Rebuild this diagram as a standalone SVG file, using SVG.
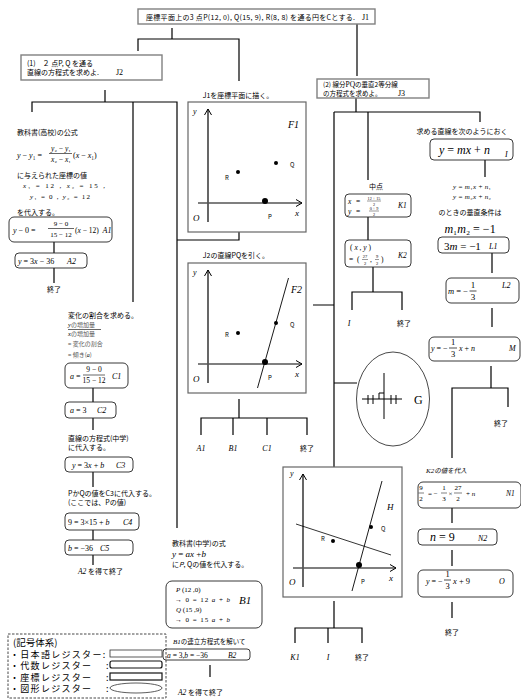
<svg xmlns="http://www.w3.org/2000/svg" width="521" height="700" viewBox="0 0 521 700">
<defs>
<style>
.jb{fill:#fff;stroke:#808080;stroke-width:1.4}
.fb{fill:#fff;stroke:#666;stroke-width:1.2}
.rb{fill:#fff;stroke:#222;stroke-width:0.9}
.c{stroke:#000;stroke-width:1.2;fill:none}
.t{font-family:'Noto Sans CJK JP','Noto Sans',sans-serif;fill:#000}
.m{font-family:'Liberation Serif','Noto Sans CJK JP',serif;fill:#000}
.i{font-style:italic}
.g{fill:#555}
.ax{stroke:#000;stroke-width:1.2;fill:none}
.xa{stroke:#555;stroke-width:1.6;fill:none}
.bar{stroke:#000}
.dot{fill:#000}
</style>
<marker id="ar" markerWidth="8" markerHeight="8" refX="6" refY="4" orient="auto" markerUnits="userSpaceOnUse"><path d="M0,0.5 L6,4 L0,7.5" fill="none" stroke="#000" stroke-width="1"/></marker>
</defs>
<rect width="521" height="700" fill="#fff"/>
<g font-size="7">

<g id="connectors" class="c">
<path d="M172,28V39M138,51V39H239V81"/>
<path d="M357,24V76"/>
<path d="M105,90V102M32,112V102H177V528M133,102V302"/>
<path d="M239,232V240H177"/>
<path d="M54,242V253M54,268V283"/>
<path d="M93,388V402M93,418V430M93,472V487M93,530V540M93,555V565"/>
<path d="M210,665V677"/>
<path d="M239,399V418M201,435V418H307V435M233,418V435M267,418V435"/>
<path d="M313,305H334M334,112V467M334,383H357"/>
<path d="M356,98V112M334,112H480V122M368,112V180"/>
<path d="M368,217V240M373,267V292M352,310V292H402V310"/>
<path d="M485,160V177M492,253V273M492,308V327M491,366V388M452,458V388H508V407"/>
<path d="M334,601V628M295,643V628H362V643M328,628V643"/>
<path d="M452,508V523M452,550V566M452,602V618"/>
</g>

<g id="J1">
<rect class="jb" x="138" y="9" width="237" height="15"/>
<text class="t" x="146" y="19.5" textLength="209" lengthAdjust="spacing">座標平面上の3 点P(12, 0), Q(15, 9), R(8, 8) を通る円をCとする.</text>
<text class="m" x="362" y="19.5" font-size="8">J1</text>
</g>

<g id="J2">
<rect class="jb" x="21" y="55" width="141" height="25"/>
<text class="t" x="27" y="66">(1)　２ 点P, Q を通る</text>
<text class="t" x="27" y="75">直線の方程式を求めよ.</text>
<text class="m" x="116" y="75" font-size="8">J2</text>
</g>

<g id="J3">
<rect class="jb" x="317" y="79" width="112" height="19"/>
<text class="t" x="323" y="87" font-size="6.5">(2) 線分<tspan class="m" font-size="7.5">PQ</tspan>の垂直2等分線</text>
<text class="t" x="323" y="95.5" font-size="6.5">の方程式を求めよ。</text>
<text class="m" x="398" y="95.5" font-size="8">J3</text>
</g>

<g id="F1">
<text class="t" x="238" y="98" text-anchor="middle">J1を座標平面に描く。</text>
<rect class="fb" x="188" y="102" width="118" height="130"/>
<line class="ax" x1="208" y1="222" x2="208" y2="109" marker-end="url(#ar)"/>
<line class="xa" x1="198" y1="203" x2="302" y2="203" marker-end="url(#ar)"/>
<text class="m i" x="193" y="114" font-size="8">y</text>
<text class="m i" x="295" y="216" font-size="9">x</text>
<text class="m i" x="193" y="221" font-size="9">O</text>
<text class="m i" x="288" y="128" font-size="10">F1</text>
<circle class="dot" cx="276" cy="163" r="2"/>
<circle class="dot" cx="238" cy="172" r="2"/>
<circle class="dot" cx="265" cy="201" r="3"/>
<text class="t" x="290" y="167" font-size="6">Q</text>
<text class="t" x="225" y="180" font-size="6">R</text>
<text class="t" x="268" y="219" font-size="6">P</text>
</g>

<g id="F2">
<text class="t" x="236" y="258" text-anchor="middle">J2の直線PQを引く。</text>
<rect class="fb" x="188" y="263" width="118" height="130"/>
<line class="ax" x1="208" y1="383" x2="208" y2="270" marker-end="url(#ar)"/>
<line class="xa" x1="198" y1="364" x2="302" y2="364" marker-end="url(#ar)"/>
<line x1="257.5" y1="388" x2="288.5" y2="278" stroke="#000" stroke-width="0.9"/>
<text class="m i" x="193" y="275" font-size="8">y</text>
<text class="m i" x="295" y="377" font-size="9">x</text>
<text class="m i" x="193" y="382" font-size="9">O</text>
<text class="m i" x="291" y="293" font-size="10">F2</text>
<circle class="dot" cx="276" cy="323" r="2"/>
<circle class="dot" cx="238" cy="333" r="2"/>
<circle class="dot" cx="265" cy="362" r="3"/>
<text class="t" x="290" y="327" font-size="6">Q</text>
<text class="t" x="225" y="337" font-size="6">R</text>
<text class="t" x="268" y="380" font-size="6">P</text>
</g>

<g id="F2-leaves">
<text class="m i" x="201" y="451" font-size="8" text-anchor="middle">A1</text>
<text class="m i" x="233" y="451" font-size="8" text-anchor="middle">B1</text>
<text class="m i" x="267" y="451" font-size="8" text-anchor="middle">C1</text>
<text class="t" x="307" y="451" text-anchor="middle">終了</text>
</g>

<g id="A0">
<text class="t" x="17" y="135">教科書(高校)の公式</text>
<text class="m" x="17" y="158" font-size="8"><tspan class="i">y</tspan> − <tspan class="i">y</tspan>₁ =</text>
<text class="m" x="61" y="151" text-anchor="middle" font-size="7.5"><tspan class="i">y</tspan>₂ − <tspan class="i">y</tspan>₁</text>
<line class="bar" x1="49" y1="153.5" x2="72" y2="153.5" stroke-width="0.6"/>
<text class="m" x="61" y="162" text-anchor="middle" font-size="7.5"><tspan class="i">x</tspan>₂ − <tspan class="i">x</tspan>₁</text>
<text class="m" x="73" y="158" font-size="8">(<tspan class="i">x</tspan> − <tspan class="i">x</tspan>₁)</text>
<text class="t" x="17" y="178">に与えられた座標の値</text>
<text class="m" x="23" y="188" textLength="82" lengthAdjust="spacing"><tspan class="i">x</tspan>₁ = 12 , <tspan class="i">x</tspan>₂ = 15 ,</text>
<text class="m" x="30" y="199" textLength="60" lengthAdjust="spacing"><tspan class="i">y</tspan>₁ = 0 , <tspan class="i">y</tspan>₂ = 12</text>
<text class="t" x="17" y="215">を代入する。</text>
</g>

<g id="A1">
<rect class="rb" x="9" y="217" width="103" height="25" rx="5"/>
<text class="m" x="13" y="233" font-size="8"><tspan class="i">y</tspan> − 0 =</text>
<text class="m" x="61" y="225.5" text-anchor="middle">9 − 0</text>
<line class="bar" x1="48" y1="228.5" x2="74" y2="228.5" stroke-width="0.6"/>
<text class="m" x="61" y="236.5" text-anchor="middle">15 − 12</text>
<text class="m" x="75" y="233" font-size="7.5">(<tspan class="i">x</tspan> − 12)</text>
<text class="m i" x="102.5" y="233" font-size="8">A1</text>
</g>

<g id="A2">
<rect class="rb" x="15" y="253" width="72" height="15" rx="4"/>
<text class="m" x="18" y="264" font-size="8"><tspan class="i">y</tspan> = 3<tspan class="i">x</tspan> − 36</text>
<text class="m i" x="67" y="264" font-size="8">A2</text>
</g>
<text class="t" x="54" y="292" text-anchor="middle">終了</text>

<g id="C0">
<text class="t" x="68" y="318">変化の割合を求める。</text>
<text class="t g" x="68" y="327" font-size="6"><tspan class="m i" font-size="6.5">y</tspan>の増加量</text>
<line class="bar" x1="68" y1="329.5" x2="101" y2="329.5" stroke-width="0.6"/>
<text class="t g" x="68" y="336" font-size="6"><tspan class="m i" font-size="6.5">x</tspan>の増加量</text>
<text class="t g" x="68" y="346" font-size="6">= 変化の割合</text>
<text class="t g" x="68" y="357" font-size="6">= 傾き(<tspan class="m i">a</tspan>)</text>
</g>

<g id="C1">
<rect class="rb" x="65" y="363" width="63" height="25" rx="5"/>
<text class="m" x="70" y="378.5" font-size="8"><tspan class="i">a</tspan> =</text>
<text class="m" x="94" y="372" text-anchor="middle" font-size="7.5">9 − 0</text>
<line class="bar" x1="83" y1="375" x2="105" y2="375" stroke-width="0.6"/>
<text class="m" x="94" y="382.5" text-anchor="middle" font-size="7.5">15 − 12</text>
<text class="m i" x="112" y="379" font-size="8">C1</text>
</g>

<g id="C2">
<rect class="rb" x="65" y="402" width="51" height="16" rx="4"/>
<text class="m" x="70" y="413" font-size="8"><tspan class="i">a</tspan> = 3</text>
<text class="m i" x="97" y="413" font-size="8">C2</text>
</g>

<g id="C3">
<text class="t" x="68" y="441">直線の方程式(中学)</text>
<text class="t" x="68" y="450">に代入する。</text>
<rect class="rb" x="65" y="457" width="68" height="15" rx="4"/>
<text class="m" x="72" y="468" font-size="8"><tspan class="i">y</tspan> = 3<tspan class="i">x</tspan> + <tspan class="i">b</tspan></text>
<text class="m i" x="116" y="468" font-size="8">C3</text>
</g>

<g id="C4">
<text class="t" x="68" y="496">PかQの値をC3に代入する。</text>
<text class="t" x="68" y="505">(ここでは、Pの値)</text>
<rect class="rb" x="65" y="513" width="74" height="17" rx="4"/>
<text class="m" x="68" y="525" font-size="8">9 = 3×15 + <tspan class="i">b</tspan></text>
<text class="m i" x="123" y="525" font-size="8">C4</text>
</g>

<g id="C5">
<rect class="rb" x="65" y="540" width="68" height="15" rx="4"/>
<text class="m" x="68" y="551" font-size="8"><tspan class="i">b</tspan> = −36</text>
<text class="m i" x="100" y="551" font-size="8">C5</text>
</g>
<text class="t" x="78" y="574"><tspan class="m i" font-size="7.5">A2</tspan> を得て終了</text>

<g id="B0">
<text class="t" x="172" y="546">教科書(中学)の式</text>
<text class="m" x="172" y="557" font-size="9"><tspan class="i">y</tspan> = <tspan class="i">ax</tspan> +<tspan class="i">b</tspan></text>
<text class="t" x="172" y="567">に<tspan class="i">P</tspan>, Qの値を代入する。</text>
</g>

<g id="B1">
<rect class="rb" x="166" y="581" width="96" height="47" rx="6"/>
<text class="m" x="176" y="592" font-size="7"><tspan class="i">P</tspan> (12 ,0)</text>
<text class="m" x="175" y="602" font-size="7" textLength="55" lengthAdjust="spacing">→ 0 = 12 <tspan class="i">a</tspan> + <tspan class="i">b</tspan></text>
<text class="m" x="176" y="612" font-size="7"><tspan class="i">Q</tspan> (15 ,9)</text>
<text class="m" x="175" y="622" font-size="7" textLength="55" lengthAdjust="spacing">→ 0 = 15 <tspan class="i">a</tspan> + <tspan class="i">b</tspan></text>
<text class="m i" x="239" y="604" font-size="11">B1</text>
</g>

<g id="B2">
<text class="t" x="173" y="644" font-size="6.5"><tspan class="m i" font-size="7">B1</tspan>の連立方程式を解いて</text>
<rect class="rb" x="163" y="649" width="87" height="11" rx="3"/>
<text class="m" x="167" y="658" font-size="7.5"><tspan class="i">a</tspan> = 3,<tspan class="i">b</tspan> = −36</text>
<text class="m i" x="228" y="658" font-size="7.5">B2</text>
</g>
<text class="t" x="178" y="695"><tspan class="m i" font-size="7.5">A2</tspan> を得て終了</text>

<g id="legend">
<rect x="8" y="634" width="158" height="64" fill="none" stroke="#333" stroke-width="0.9" stroke-dasharray="2.5,1.5"/>
<text class="t" x="13" y="645.5" font-size="9.5">(記号体系)</text>
<text class="t" x="10" y="657.5" font-size="9" letter-spacing="1.3">・日本語レジスター:</text>
<text class="t" x="10" y="669" font-size="9" letter-spacing="1.3">・代数レジスター</text>
<text class="t" x="10" y="680.5" font-size="9" letter-spacing="1.3">・座標レジスター</text>
<text class="t" x="10" y="692" font-size="9" letter-spacing="1.3">・図形レジスター</text>
<text class="t" x="106" y="669" font-size="9">:</text>
<text class="t" x="106" y="680.5" font-size="9">:</text>
<text class="t" x="106" y="692" font-size="9">:</text>
<rect x="110" y="650" width="52" height="7" fill="#fff" stroke="#333" stroke-width="0.8"/>
<rect x="110" y="661" width="52" height="7" rx="2" fill="#fff" stroke="#111" stroke-width="1.2"/>
<rect x="110" y="673" width="52" height="7" fill="#fff" stroke="#111" stroke-width="1.2"/>
<ellipse cx="136" cy="688" rx="26" ry="5" fill="#fff" stroke="#333" stroke-width="0.8"/>
</g>

<g id="K1">
<text class="t" x="376" y="189" text-anchor="middle">中点</text>
<rect class="rb" x="345" y="194" width="66" height="23" rx="4"/>
<text class="m i" x="348" y="203.5" font-size="7.5">x</text>
<text class="m" x="356" y="203.5" font-size="7.5">=</text>
<text class="m" x="374" y="199.5" text-anchor="middle" font-size="4.2">12 + 15</text>
<line class="bar" x1="367" y1="201" x2="381" y2="201" stroke-width="0.4"/>
<text class="m" x="374" y="205.5" text-anchor="middle" font-size="4.2">2</text>
<text class="m i" x="348" y="213.5" font-size="7.5">y</text>
<text class="m" x="356" y="213.5" font-size="7.5">=</text>
<text class="m" x="374" y="209.5" text-anchor="middle" font-size="4.2">0 + 9</text>
<line class="bar" x1="369" y1="211" x2="379" y2="211" stroke-width="0.4"/>
<text class="m" x="374" y="215.5" text-anchor="middle" font-size="4.2">2</text>
<text class="m i" x="398" y="208" font-size="7.5">K1</text>
</g>

<g id="K2">
<rect class="rb" x="345" y="240" width="66" height="27" rx="4"/>
<text class="m" x="350" y="250" font-size="7.5">( <tspan class="i">x</tspan> , <tspan class="i">y</tspan> )</text>
<text class="m" x="349" y="261.5" font-size="7.5">=</text>
<text class="m" x="357" y="261.5" font-size="7.5">(</text>
<text class="m" x="365" y="258" text-anchor="middle" font-size="4.5">27</text>
<line class="bar" x1="362" y1="259.5" x2="368" y2="259.5" stroke-width="0.4"/>
<text class="m" x="365" y="264.5" text-anchor="middle" font-size="4.5">2</text>
<text class="m" x="370" y="261.5" font-size="7.5">,</text>
<text class="m" x="377" y="258" text-anchor="middle" font-size="4.5">9</text>
<line class="bar" x1="375" y1="259.5" x2="379" y2="259.5" stroke-width="0.4"/>
<text class="m" x="377" y="264.5" text-anchor="middle" font-size="4.5">2</text>
<text class="m" x="381" y="261.5" font-size="7.5">)</text>
<text class="m i" x="398" y="258" font-size="7.5">K2</text>
</g>
<text class="m i" x="349" y="326" font-size="8" text-anchor="middle">I</text>
<text class="t" x="404" y="326" text-anchor="middle">終了</text>

<g id="I">
<text class="t" x="462" y="134" text-anchor="middle">求める直線を次のようにおく</text>
<rect class="rb" x="430" y="139" width="83" height="21" rx="4"/>
<text class="m" x="439" y="154" font-size="12"><tspan class="i">y</tspan> = <tspan class="i">mx</tspan> + <tspan class="i">n</tspan></text>
<text class="m i" x="505" y="157" font-size="8">I</text>
</g>

<g id="L0">
<text class="m" x="453" y="189" font-size="7" textLength="38" lengthAdjust="spacing"><tspan class="i">y</tspan> = <tspan class="i">m</tspan>₁<tspan class="i">x</tspan> + <tspan class="i">n</tspan>₁</text>
<text class="m" x="453" y="199" font-size="7" textLength="38" lengthAdjust="spacing"><tspan class="i">y</tspan> = <tspan class="i">m</tspan>₂<tspan class="i">x</tspan> + <tspan class="i">n</tspan>₂</text>
<text class="t" x="470" y="215" text-anchor="middle">のときの垂直条件は</text>
<text class="m" x="470" y="233" text-anchor="middle" font-size="12"><tspan class="i">m</tspan>₁<tspan class="i">m</tspan>₂ = −1</text>
</g>

<g id="L1">
<rect class="rb" x="438" y="237" width="71" height="16" rx="4"/>
<text class="m" x="444" y="249.5" font-size="11">3<tspan class="i">m</tspan> = −1</text>
<text class="m i" x="489" y="249" font-size="8">L1</text>
</g>

<g id="L2">
<rect class="rb" x="446" y="278" width="73" height="25" rx="5"/>
<text class="m" x="448" y="294" font-size="8.5"><tspan class="i">m</tspan> = −</text>
<text class="m" x="473" y="288" text-anchor="middle" font-size="9">1</text>
<line class="bar" x1="469.5" y1="291" x2="476.5" y2="291" stroke-width="0.7"/>
<text class="m" x="473" y="300" text-anchor="middle" font-size="9">3</text>
<text class="m i" x="502" y="288" font-size="8">L2</text>
</g>

<g id="M">
<rect class="rb" x="429" y="337" width="91" height="24" rx="5"/>
<text class="m" x="431" y="351" font-size="8"><tspan class="i">y</tspan> = −</text>
<text class="m" x="453" y="345" text-anchor="middle" font-size="8.5">1</text>
<line class="bar" x1="449" y1="348" x2="457" y2="348" stroke-width="0.7"/>
<text class="m" x="453" y="357" text-anchor="middle" font-size="8.5">3</text>
<text class="m" x="459" y="351" font-size="8"><tspan class="i">x</tspan> + <tspan class="i">n</tspan></text>
<text class="m i" x="509" y="351" font-size="8">M</text>
</g>
<text class="t" x="501" y="426" text-anchor="middle">終了</text>

<g id="G">
<ellipse cx="393" cy="399" rx="36.5" ry="47" fill="#fff" stroke="#333" stroke-width="0.9"/>
<path d="M384,373V419M362,399H402M368,395V404M373,395V404M391,395V404M396,395V404M379,399V393H384" fill="none" stroke="#000" stroke-width="1"/>
<text class="m" x="414" y="404" font-size="12">G</text>
</g>

<g id="H">
<rect class="fb" x="283" y="467" width="119" height="130"/>
<line class="ax" x1="303" y1="587" x2="303" y2="474" marker-end="url(#ar)"/>
<line class="xa" x1="293" y1="568" x2="396" y2="568" marker-end="url(#ar)"/>
<line x1="352" y1="591" x2="382" y2="481" stroke="#000" stroke-width="0.9"/>
<line x1="296" y1="524" x2="391" y2="555" stroke="#000" stroke-width="0.8"/>
<text class="m i" x="290" y="476" font-size="8">y</text>
<text class="m i" x="389" y="581" font-size="9">x</text>
<text class="m i" x="289" y="585" font-size="9">O</text>
<text class="m i" x="387" y="510" font-size="9">H</text>
<circle class="dot" cx="371" cy="527" r="2"/>
<circle class="dot" cx="333" cy="541" r="2"/>
<circle class="dot" cx="359" cy="565" r="3"/>
<text class="t" x="381" y="531" font-size="6">Q</text>
<text class="t" x="321" y="541" font-size="6">R</text>
<text class="t" x="361" y="584" font-size="6">P</text>
</g>
<text class="m i" x="295" y="660" font-size="8" text-anchor="middle">K1</text>
<text class="m i" x="328" y="660" font-size="8" text-anchor="middle">I</text>
<text class="t" x="362" y="660" text-anchor="middle">終了</text>

<g id="N1">
<text class="t i" x="426" y="473" font-size="6.5"><tspan class="m" font-size="7">K2</tspan>の値を代入</text>
<rect class="rb" x="418" y="482" width="103" height="26" rx="5"/>
<text class="m" x="421" y="490" text-anchor="middle" font-size="7">9</text>
<line class="bar" x1="418.5" y1="493" x2="424" y2="493" stroke-width="0.5"/>
<text class="m" x="421" y="500.5" text-anchor="middle" font-size="7">2</text>
<text class="m" x="428" y="496" font-size="7">= −</text>
<text class="m" x="444" y="490" text-anchor="middle" font-size="7">1</text>
<line class="bar" x1="441" y1="493" x2="447" y2="493" stroke-width="0.5"/>
<text class="m" x="444" y="500.5" text-anchor="middle" font-size="7">3</text>
<text class="m" x="448.5" y="496" font-size="7">×</text>
<text class="m" x="458" y="490" text-anchor="middle" font-size="7">27</text>
<line class="bar" x1="454" y1="493" x2="462" y2="493" stroke-width="0.5"/>
<text class="m" x="458" y="500.5" text-anchor="middle" font-size="7">2</text>
<text class="m" x="466" y="496" font-size="7">+ <tspan class="i">n</tspan></text>
<text class="m i" x="506" y="496" font-size="7.5">N1</text>
</g>

<g id="N2">
<rect class="rb" x="418" y="529" width="79" height="16" rx="4"/>
<text class="m" x="430" y="541" font-size="12"><tspan class="i">n</tspan> = 9</text>
<text class="m i" x="478" y="541" font-size="8">N2</text>
</g>

<g id="O">
<rect class="rb" x="418" y="570" width="95" height="27" rx="5"/>
<text class="m" x="426" y="584" font-size="8"><tspan class="i">y</tspan> = −</text>
<text class="m" x="447.5" y="577" text-anchor="middle" font-size="8.5">1</text>
<line class="bar" x1="444" y1="580" x2="451" y2="580" stroke-width="0.7"/>
<text class="m" x="447.5" y="589" text-anchor="middle" font-size="8.5">3</text>
<text class="m" x="453" y="584" font-size="8.5"><tspan class="i">x</tspan> + 9</text>
<text class="m i" x="499" y="584" font-size="8">O</text>
</g>
<text class="t" x="452" y="635" text-anchor="middle">終了</text>
</g>
</svg>
